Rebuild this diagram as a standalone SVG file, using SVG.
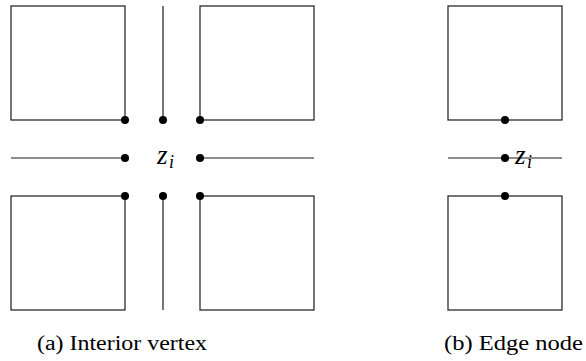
<svg xmlns="http://www.w3.org/2000/svg" width="586" height="361" viewBox="0 0 586 361">
<style>
.ln{fill:none;stroke:#1a1a1a;stroke-width:1.2}
.dot{fill:#000}
.lbl{font-family:'Liberation Serif','Times New Roman','DejaVu Serif',serif;font-style:italic;font-size:27px;fill:#000}
.sub{font-family:'Liberation Serif','Times New Roman','DejaVu Serif',serif;font-style:italic;font-size:18px;fill:#000}
.cap{font-family:'Liberation Serif','Times New Roman','DejaVu Serif',serif;font-size:20px;fill:#000}
</style>
<rect width="586" height="361" fill="#fff"/>
<g id="edges">
<line class="ln" x1="163" y1="6" x2="163" y2="120"/>
<line class="ln" x1="163" y1="196" x2="163" y2="310"/>
<line class="ln" x1="11" y1="158" x2="125" y2="158"/>
<line class="ln" x1="200" y1="158" x2="314" y2="158"/>
<line class="ln" x1="448" y1="158" x2="562" y2="158"/>
</g>
<g id="panel-a">
<g id="sq-tl"><rect class="ln" x="11" y="6" width="114" height="114"/></g>
<g id="sq-tr"><rect class="ln" x="200" y="6" width="114" height="114"/></g>
<g id="sq-bl"><rect class="ln" x="11" y="196" width="114" height="114"/></g>
<g id="sq-br"><rect class="ln" x="200" y="196" width="114" height="114"/></g>
<g id="dots-a">
<circle class="dot" cx="125" cy="120" r="4"/>
<circle class="dot" cx="163" cy="120" r="4"/>
<circle class="dot" cx="200" cy="120" r="4"/>
<circle class="dot" cx="125" cy="158" r="4"/>
<circle class="dot" cx="200" cy="158" r="4"/>
<circle class="dot" cx="125" cy="196" r="4"/>
<circle class="dot" cx="163" cy="196" r="4"/>
<circle class="dot" cx="200" cy="196" r="4"/>
</g>
<g id="zi-a"><text class="lbl" x="157" y="164">z</text><text class="sub" x="169" y="168">i</text></g>
<text class="cap" x="37" y="350" textLength="170" lengthAdjust="spacingAndGlyphs">(a)  Interior vertex</text>
</g>
<g id="panel-b">
<g id="sq-t"><rect class="ln" x="448" y="6" width="114" height="114"/></g>
<g id="sq-b"><rect class="ln" x="448" y="196" width="114" height="114"/></g>
<g id="dots-b">
<circle class="dot" cx="505" cy="120" r="4"/>
<circle class="dot" cx="505" cy="158" r="4"/>
<circle class="dot" cx="505" cy="196" r="4"/>
</g>
<g id="zi-b"><text class="lbl" x="515" y="164">z</text><text class="sub" x="527" y="168">i</text></g>
<text class="cap" x="444" y="350" textLength="139" lengthAdjust="spacingAndGlyphs">(b)  Edge node</text>
</g>
</svg>
